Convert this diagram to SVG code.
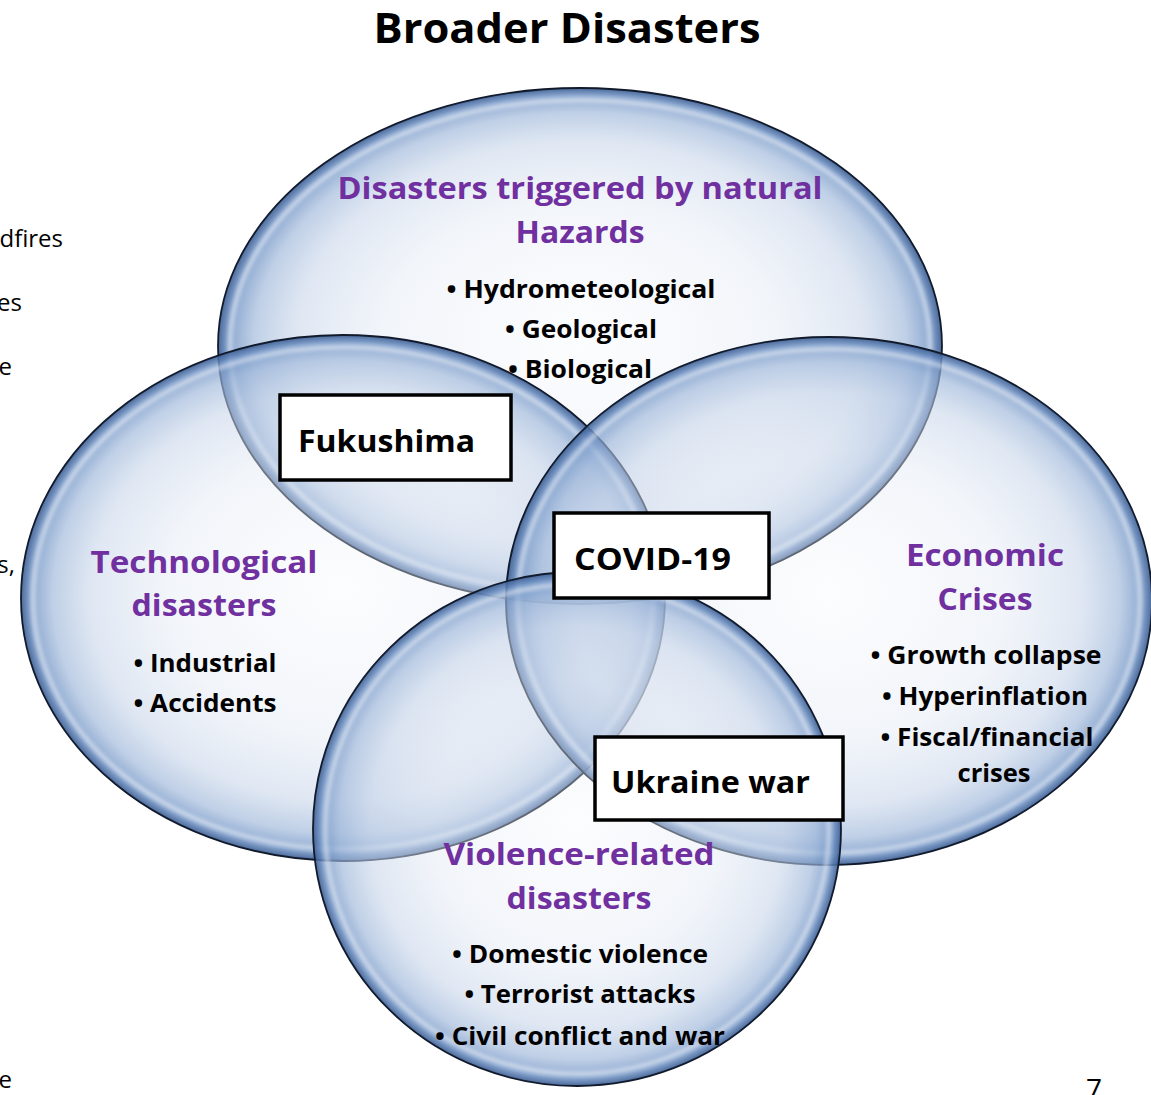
<svg xmlns="http://www.w3.org/2000/svg" width="1151" height="1095" viewBox="0 0 1151 1095">
  <style>
    text { font-family: "Open Sans", "Liberation Sans", sans-serif; }
    .title { font-weight: 700; font-size: 41px; fill: #000; text-anchor: middle; }
    .side { font-size: 24px; fill: #000; text-anchor: end; }
    .page { font-size: 28px; fill: #000; text-anchor: end; }
    .head { font-weight: 700; font-size: 31px; fill: #7030a0; text-anchor: middle; }
    .item { font-weight: 700; font-size: 25px; fill: #000; text-anchor: middle; }
    .bubble { fill: url(#glass); stroke: #121b2c; stroke-width: 1.8; }
    .shine { fill: none; stroke: #ffffff; stroke-opacity: 0.75; stroke-width: 3; filter: url(#soft); }
    .tag rect { fill: #fff; stroke: #000; stroke-width: 3.5; }
    .tag text { font-weight: 700; font-size: 31px; fill: #000; }
  </style>
  <defs>
    <radialGradient id="glass" cx="50%" cy="50%" r="50%" fx="50%" fy="48%">
      <stop offset="0" stop-color="#f4f7fb" stop-opacity="0.3"/>
      <stop offset="0.55" stop-color="#e1e8f3" stop-opacity="0.45"/>
      <stop offset="0.78" stop-color="#c6d4e9" stop-opacity="0.55"/>
      <stop offset="0.9" stop-color="#9db6d9" stop-opacity="0.65"/>
      <stop offset="0.97" stop-color="#6c90c3" stop-opacity="0.8"/>
      <stop offset="1" stop-color="#3a5c92" stop-opacity="0.92"/>
    </radialGradient>
    <filter id="soft" x="-5%" y="-5%" width="110%" height="110%">
      <feGaussianBlur stdDeviation="2"/>
    </filter>
  </defs>

  <rect width="1151" height="1095" fill="#fff"/>

  <text class="title" x="567" y="43" textLength="387" lengthAdjust="spacingAndGlyphs">Broader Disasters</text>

  <!-- text cut off at the left page edge -->
  <g id="margin-text" class="side">
    <text x="63" y="247">dfires</text>
    <text x="22" y="311">es</text>
    <text x="12" y="375">e</text>
    <text x="15" y="573">s,</text>
    <text x="12" y="1088">e</text>
  </g>
  <text class="page" x="1102" y="1099">7</text>

  <!-- overlapping glass bubbles -->
  <g id="bubbles">
    <ellipse id="bubble-natural" class="bubble" cx="580" cy="346" rx="362" ry="258"/>
    <ellipse class="shine" cx="580" cy="346" rx="350" ry="246"/>
    <ellipse id="bubble-technological" class="bubble" cx="343" cy="598" rx="322" ry="263"/>
    <ellipse class="shine" cx="343" cy="598" rx="310" ry="251"/>
    <ellipse id="bubble-economic" class="bubble" cx="829" cy="601" rx="323" ry="264"/>
    <ellipse class="shine" cx="829" cy="601" rx="311" ry="252"/>
    <ellipse id="bubble-violence" class="bubble" cx="577" cy="829" rx="264" ry="257"/>
    <ellipse class="shine" cx="577" cy="829" rx="252" ry="245"/>
  </g>

  <g id="node-natural">
    <text class="head" x="580" y="199" textLength="485" lengthAdjust="spacingAndGlyphs">Disasters triggered by natural</text>
    <text class="head" x="580" y="243" textLength="129" lengthAdjust="spacingAndGlyphs">Hazards</text>
    <text class="item" x="581" y="298" textLength="269" lengthAdjust="spacingAndGlyphs">• Hydrometeological</text>
    <text class="item" x="581" y="338" textLength="152" lengthAdjust="spacingAndGlyphs">• Geological</text>
    <text class="item" x="580" y="378" textLength="144" lengthAdjust="spacingAndGlyphs">• Biological</text>
  </g>

  <g id="node-technological">
    <text class="head" x="204" y="573" textLength="227" lengthAdjust="spacingAndGlyphs">Technological</text>
    <text class="head" x="204" y="616" textLength="145" lengthAdjust="spacingAndGlyphs">disasters</text>
    <text class="item" x="205" y="672" textLength="143" lengthAdjust="spacingAndGlyphs">• Industrial</text>
    <text class="item" x="205" y="712" textLength="143" lengthAdjust="spacingAndGlyphs">• Accidents</text>
  </g>

  <g id="node-economic">
    <text class="head" x="985" y="566" textLength="158" lengthAdjust="spacingAndGlyphs">Economic</text>
    <text class="head" x="985" y="610" textLength="95" lengthAdjust="spacingAndGlyphs">Crises</text>
    <text class="item" x="986" y="664" textLength="231" lengthAdjust="spacingAndGlyphs">• Growth collapse</text>
    <text class="item" x="985" y="705" textLength="206" lengthAdjust="spacingAndGlyphs">• Hyperinflation</text>
    <text class="item" x="987" y="746" textLength="213" lengthAdjust="spacingAndGlyphs">• Fiscal/financial</text>
    <text class="item" x="994" y="782" textLength="73" lengthAdjust="spacingAndGlyphs">crises</text>
  </g>

  <g id="node-violence">
    <text class="head" x="579" y="865" textLength="271" lengthAdjust="spacingAndGlyphs">Violence-related</text>
    <text class="head" x="579" y="909" textLength="145" lengthAdjust="spacingAndGlyphs">disasters</text>
    <text class="item" x="580" y="963" textLength="256" lengthAdjust="spacingAndGlyphs">• Domestic violence</text>
    <text class="item" x="580" y="1003" textLength="231" lengthAdjust="spacingAndGlyphs">• Terrorist attacks</text>
    <text class="item" x="580" y="1045" textLength="290" lengthAdjust="spacingAndGlyphs">• Civil conflict and war</text>
  </g>

  <!-- example events in the overlaps -->
  <g id="tag-fukushima" class="tag">
    <rect x="280" y="395" width="231" height="85"/>
    <text x="298" y="452" textLength="177" lengthAdjust="spacingAndGlyphs">Fukushima</text>
  </g>
  <g id="tag-covid" class="tag">
    <rect x="554" y="513" width="215" height="85"/>
    <text x="574" y="570" textLength="157" lengthAdjust="spacingAndGlyphs">COVID-19</text>
  </g>
  <g id="tag-ukraine" class="tag">
    <rect x="595" y="737" width="248" height="83"/>
    <text x="611" y="793" textLength="199" lengthAdjust="spacingAndGlyphs">Ukraine war</text>
  </g>
</svg>
